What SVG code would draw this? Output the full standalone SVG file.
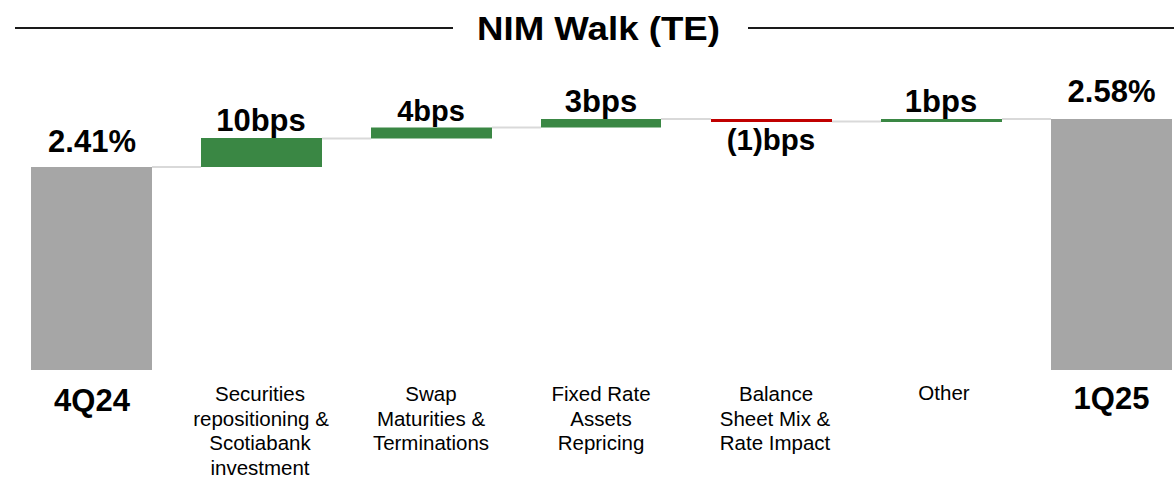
<svg xmlns="http://www.w3.org/2000/svg" width="1174" height="477" viewBox="0 0 1174 477">
<style>
.val{font-family:"Liberation Sans",Arial,sans-serif;font-weight:bold;font-size:31px;fill:#000;text-anchor:middle}
.qtr{font-family:"Liberation Sans",Arial,sans-serif;font-weight:bold;font-size:31px;fill:#000;text-anchor:middle}
.cat{font-family:"Liberation Sans",Arial,sans-serif;font-size:20.5px;fill:#000;text-anchor:middle}
.title{font-family:"Liberation Sans",Arial,sans-serif;font-weight:bold;font-size:33px;fill:#000;text-anchor:middle}
.gray{fill:#a6a6a6}
.up{fill:#3a8744}
.down{fill:#c00000}
.conn{stroke:#d9d9d9;stroke-width:2;fill:none}
.rule{stroke:#1a1a1a;stroke-width:2}
</style>
<rect width="1174" height="477" fill="#fff"/>
<g id="title">
<line class="rule" x1="15" y1="28" x2="453" y2="28"/>
<line class="rule" x1="748" y1="28" x2="1174" y2="28"/>
<text class="title" x="598.5" y="40" textLength="243" lengthAdjust="spacingAndGlyphs">NIM Walk (TE)</text>
</g>
<g id="connectors">
<line class="conn" x1="152" y1="167" x2="201" y2="167"/>
<line class="conn" x1="322" y1="138.5" x2="371" y2="138.5"/>
<line class="conn" x1="492" y1="127.5" x2="541" y2="127.5"/>
<line class="conn" x1="661" y1="119" x2="711" y2="119"/>
<line class="conn" x1="832" y1="121.5" x2="881" y2="121.5"/>
<line class="conn" x1="1002" y1="119" x2="1051" y2="119"/>
</g>
<g id="bar-4q24">
<rect class="gray" x="31" y="167" width="121" height="203"/>
<text class="val" x="92" y="151.5">2.41%</text>
<text class="qtr" x="92" y="410.5">4Q24</text>
</g>
<g id="bar-securities">
<rect class="up" x="201" y="138" width="121" height="29"/>
<text class="val" x="261" y="131">10bps</text>
<text class="cat" x="261"><tspan x="260" y="401">Securities</tspan><tspan x="261" y="425.5">repositioning &amp;</tspan><tspan x="260" y="450">Scotiabank</tspan><tspan x="260" y="474.5">investment</tspan></text>
</g>
<g id="bar-swap">
<rect class="up" x="371" y="127.5" width="121" height="11"/>
<text class="val" x="431" y="121" style="font-size:29px">4bps</text>
<text class="cat" x="431"><tspan x="431" y="401">Swap</tspan><tspan x="431" y="425.5">Maturities &amp;</tspan><tspan x="431" y="450">Terminations</tspan></text>
</g>
<g id="bar-fixed">
<rect class="up" x="541" y="119" width="120" height="8.5"/>
<text class="val" x="601" y="111.5">3bps</text>
<text class="cat" x="601"><tspan x="601" y="401">Fixed Rate</tspan><tspan x="601" y="425.5">Assets</tspan><tspan x="601" y="450">Repricing</tspan></text>
</g>
<g id="bar-balance">
<rect class="down" x="711" y="119" width="121" height="3"/>
<text class="val" x="771" y="150" style="font-size:29.5px">(1)bps</text>
<text class="cat" x="775"><tspan x="776" y="401">Balance</tspan><tspan x="775" y="425.5">Sheet Mix &amp;</tspan><tspan x="775" y="450">Rate Impact</tspan></text>
</g>
<g id="bar-other">
<rect class="up" x="881" y="119" width="121" height="3"/>
<text class="val" x="941" y="112">1bps</text>
<text class="cat" x="944" y="400">Other</text>
</g>
<g id="bar-1q25">
<rect class="gray" x="1051" y="119" width="121" height="251"/>
<text class="val" x="1111.5" y="101.5">2.58%</text>
<text class="qtr" x="1111.5" y="409">1Q25</text>
</g>
</svg>
